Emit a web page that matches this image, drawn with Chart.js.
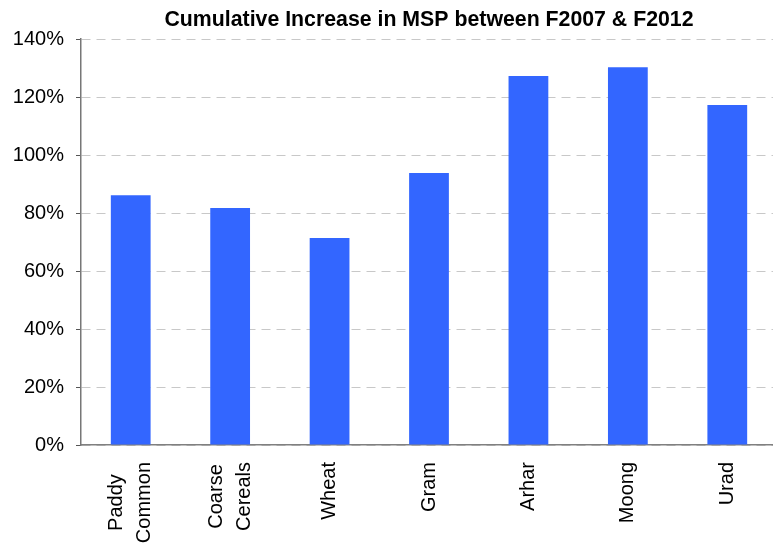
<!DOCTYPE html>
<html>
<head>
<meta charset="utf-8">
<script src="https://cdn.jsdelivr.net/npm/chart.js@4/dist/chart.umd.min.js"></script>
<style>
  html, body { margin: 0; padding: 0; background: #fff; overflow: hidden; }
  #wrap { width: 777px; height: 543px; }
</style>
</head>
<body>
<div id="wrap"><canvas id="msp"></canvas></div>
<script>
/* ── data ───────────────────────────────── */
const crops = [['Paddy', 'Common'], ['Coarse', 'Cereals'], 'Wheat', 'Gram', 'Arhar', 'Moong', 'Urad'];
const increasePct = [86.1, 81.7, 71.4, 93.8, 127.2, 130.3, 117.2];
const yTicks = [0, 20, 40, 60, 80, 100, 120, 140];
const chartTitle = 'Cumulative Increase in MSP between F2007 & F2012';

const FONT = '"Liberation Sans", Arial, sans-serif';
const X_FONT_SIZE = 20;
const X_LINE_H = 1.4;

// title centred over the plot area rather than the whole canvas
const plotTitle = {
  id: 'plotTitle',
  afterDraw(chart) {
    const { ctx, chartArea } = chart;
    ctx.save();
    ctx.font = 'bold 21.3px ' + FONT;
    ctx.fillStyle = '#000';
    ctx.textAlign = 'center';
    ctx.textBaseline = 'alphabetic';
    ctx.fillText(chartTitle, (chartArea.left + chartArea.right) / 2, 26);
    ctx.restore();
  }
};

// two-line category labels: centre the block on the tick and the lines on each other
const centreMultiLine = {
  id: 'centreMultiLine',
  beforeDraw(chart) {
    const scale = chart.scales.x;
    const items = scale.getLabelItems(chart.chartArea);
    const ctx = chart.ctx;
    ctx.save();
    ctx.font = X_FONT_SIZE + 'px ' + FONT;
    items.forEach(it => {
      if (!Array.isArray(it.label) || it._centred) return;
      const lh = X_FONT_SIZE * X_LINE_H;
      const widest = Math.max(...it.label.map(s => ctx.measureText(s).width));
      it.options.translation[0] -= lh * (it.label.length - 1) / 2;
      it.options.translation[1] += widest / 2;
      it.options.textAlign = 'center';
      it._centred = true;
    });
    ctx.restore();
  }
};

new Chart(document.getElementById('msp'), {
  type: 'bar',
  data: {
    labels: crops,
    datasets: [{
      data: increasePct,
      backgroundColor: '#3366ff',
      borderWidth: 0,
      barPercentage: 0.4,
      categoryPercentage: 1
    }]
  },
  options: {
    responsive: true,
    maintainAspectRatio: false,
    animation: false,
    layout: { padding: { top: 39, left: 0, right: 0, bottom: 0 } },
    plugins: {
      legend: { display: false },
      title: { display: false },
      tooltip: { enabled: false }
    },
    scales: {
      x: {
        afterFit: s => { s.height = 98; },
        grid: { display: false, drawTicks: false },
        border: { display: true, color: '#808080', width: 1.5 },
        ticks: {
          color: '#000',
          font: { family: FONT, size: X_FONT_SIZE, lineHeight: X_LINE_H },
          minRotation: 90, maxRotation: 90,
          autoSkip: false,
          padding: 17
        }
      },
      y: {
        min: 0, max: 140,
        afterFit: s => { s.width = 81; },
        afterBuildTicks: s => { s.ticks = yTicks.map(v => ({ value: v })); },
        grid: {
          color: '#c8c8c8',
          lineWidth: 1,
          tickLength: 5,
          tickColor: '#555',
          tickBorderDash: [],
          tickWidth: 1
        },
        border: { display: true, color: '#777', width: 1.5, dash: [9, 6] },
        ticks: {
          color: '#000',
          padding: 12,
          font: { family: FONT, size: 20 },
          callback: v => v + '%'
        }
      }
    }
  },
  plugins: [centreMultiLine, plotTitle]
});
</script>
</body>
</html>
